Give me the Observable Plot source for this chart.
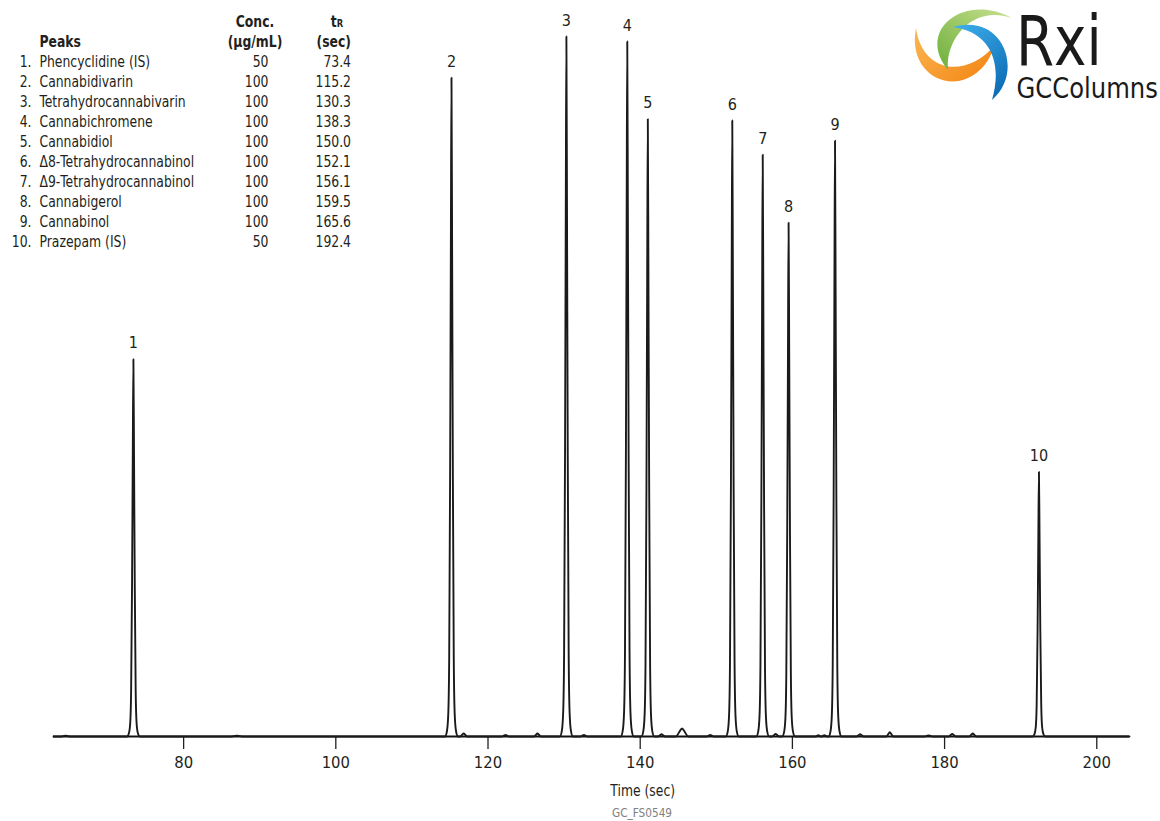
<!DOCTYPE html>
<html><head><meta charset="utf-8">
<script src="https://cdn.jsdelivr.net/npm/d3@7"></script>
<script src="https://cdn.jsdelivr.net/npm/@observablehq/plot@0.6"></script>
<style>
body{margin:0;background:#fff;}
#wrap{position:relative;width:1160px;height:821px;}
#wrap > svg{display:block;}
#overlay{position:absolute;left:0;top:0;pointer-events:none;}
</style></head><body><div id="wrap"></div>
<script>
// ---------- data ----------
const peakNumbers = ["1","2","3","4","5","6","7","8","9","10"];
const peakNames = ["Phencyclidine (IS)","Cannabidivarin","Tetrahydrocannabivarin","Cannabichromene","Cannabidiol","Δ8-Tetrahydrocannabinol","Δ9-Tetrahydrocannabinol","Cannabigerol","Cannabinol","Prazepam (IS)"];
const peakConc = ["50","100","100","100","100","100","100","100","100","50"];
const peakTR = ["73.4","115.2","130.3","138.3","150.0","152.1","156.1","159.5","165.6","192.4"];
// peak apex positions (sec) and heights (% of tallest)
const peakTimes = [73.4,115.2,130.3,138.3,141.0,152.1,156.1,159.5,165.6,192.4];
const peakHeights = [53.9,94.1,100,99.3,88.2,88.0,83.1,73.4,85.1,37.8];
// peak outline (offset in sec, fraction of apex height)
const peakShapeOffsets = [-0.85,-0.6,-0.42,-0.3,-0.18,-0.08,0,0.08,0.18,0.3,0.42,0.6,0.85];
const peakShapeFractions = [0,0.008,0.035,0.12,0.4,0.75,1,0.75,0.4,0.12,0.035,0.008,0];
// minor baseline bumps
const bumpTimes = [64.5,87.0,116.8,122.3,126.5,132.6,142.8,145.5,149.2,157.8,163.4,164.2,168.9,172.8,177.9,181.0,183.7];
const bumpHeights = [0.12,0.1,0.45,0.22,0.42,0.22,0.32,1.15,0.22,0.38,0.2,0.2,0.32,0.6,0.16,0.38,0.42];
const bumpWidths = [0.6,0.8,0.45,0.45,0.45,0.45,0.45,0.8,0.45,0.45,0.38,0.38,0.45,0.45,0.5,0.45,0.45];
const bumpShapeOffsets = [-1,-0.5,0,0.5,1];
const bumpShapeFractions = [0,0.5,1,0.5,0];
const xTicks = [80,100,120,140,160,180,200];
const xDomain = [62.9,204.3];

const FONT = '"DejaVu Sans Condensed","Liberation Sans Narrow","Roboto",sans-serif';
const INK = "#231f20";

// ---------- build trace ----------
const trace = [{t:xDomain[0],v:0},{t:xDomain[1],v:0}];
peakTimes.forEach((t,i)=>peakShapeOffsets.forEach((o,k)=>trace.push({t:t+o,v:peakHeights[i]*peakShapeFractions[k]})));
bumpTimes.forEach((t,i)=>bumpShapeOffsets.forEach((o,k)=>trace.push({t:t+o*bumpWidths[i],v:bumpHeights[i]*bumpShapeFractions[k]})));
trace.sort((a,b)=>a.t-b.t);
const peaks = peakTimes.map((t,i)=>({t,h:peakHeights[i],n:peakNumbers[i]}));

// ---------- chart ----------
const chart = Plot.plot({
  width:1160, height:821,
  marginLeft:53, marginRight:31, marginTop:36, marginBottom:85,
  x:{domain:xDomain},
  y:{domain:[0,100], axis:null},
  style:{fontFamily:FONT, color:INK, background:"transparent"},
  marks:[
    Plot.axisX({ticks:xTicks, tickSize:13, tickPadding:7, label:null, fontSize:16.5, strokeWidth:1.3}),
    Plot.ruleY([0],{stroke:"#111",strokeWidth:2}),
    Plot.line(trace,{x:"t",y:"v",curve:"monotone-x",stroke:"#1a1a1a",strokeWidth:1.9}),
    Plot.text(peaks,{x:"t",y:"h",text:"n",dy:-16,fontSize:16,fill:INK})
  ]
});
const wrap = document.getElementById("wrap");
wrap.appendChild(chart);

// ---------- overlay: legend table, logo, captions ----------
const svg = d3.select(wrap).append("svg").attr("id","overlay")
  .attr("width",1160).attr("height",821)
  .style("font-family",FONT).attr("fill",INK);

function stxt(g, x, y, str, o = {}) {
  const t = g.append("text")
    .attr("transform", `translate(${x},${y}) scale(${o.sx ?? 0.89},1)`)
    .attr("text-anchor", o.anchor ?? "start")
    .attr("font-size", o.size ?? 15.5)
    .attr("font-weight", o.weight ?? "normal")
    .attr("fill", o.fill ?? INK);
  if (str != null) t.text(str);
  return t;
}

const B = {weight:"bold"};
stxt(svg,255,27.3,"Conc.",{...B,anchor:"middle"});
stxt(svg,255,46.7,"(µg/mL)",{...B,anchor:"middle"});
const tr = stxt(svg,337,27.3,null,{...B,anchor:"middle"});
tr.append("tspan").text("t");
tr.append("tspan").attr("font-size",10.5).text("R");
stxt(svg,351,46.7,"(sec)",{...B,anchor:"end"});
stxt(svg,39.5,46.7,"Peaks",B);

peakNames.forEach((name,i)=>{
  const y = 66.7 + 20*i;
  stxt(svg,31.5,y,peakNumbers[i]+".",{anchor:"end"});
  stxt(svg,39.5,y,name);
  stxt(svg,268.5,y,peakConc[i],{anchor:"end"});
  stxt(svg,351,y,peakTR[i],{anchor:"end"});
});

stxt(svg,642.7,796,"Time (sec)",{anchor:"middle",size:16,sx:0.86});
stxt(svg,642,816.7,"GC_FS0549",{anchor:"middle",size:13,sx:0.9,fill:"#808080"});

// logo
const defs = svg.append("defs");
function grad(id, c1, c2, x1,y1,x2,y2){
  const g = defs.append("linearGradient").attr("id",id).attr("x1",x1).attr("y1",y1).attr("x2",x2).attr("y2",y2);
  g.append("stop").attr("offset","0").attr("stop-color",c1);
  g.append("stop").attr("offset","1").attr("stop-color",c2);
}
grad("gOr","#fbb653","#f38a1a","0","0","1","0.6");
grad("gGr","#6cae3a","#c9e190","0","1","1","0");
grad("gBl","#3fb0ea","#0f6fb8","0","0","0.6","1");
const logo = svg.append("g");
logo.append("path").attr("fill","url(#gOr)").attr("d","M916,28 C905,85 975,105 995,45 C965,80 922,72 916,28 Z");
logo.append("path").attr("fill","url(#gGr)").attr("d","M948,70 C915,30 965,-8 1012,18 C972,4 945,40 948,70 Z");
logo.append("path").attr("fill","url(#gBl)").attr("d","M953,27 C1003,12 1025,72 992,100 C1003,62 990,32 953,27 Z");
stxt(logo,1016,65,"Rxi",{size:70,sx:0.87,fill:"#1a1a1a"});
stxt(logo,1016.5,98.3,"GCColumns",{size:29,sx:0.93,fill:"#1a1a1a"});
</script></body></html>
